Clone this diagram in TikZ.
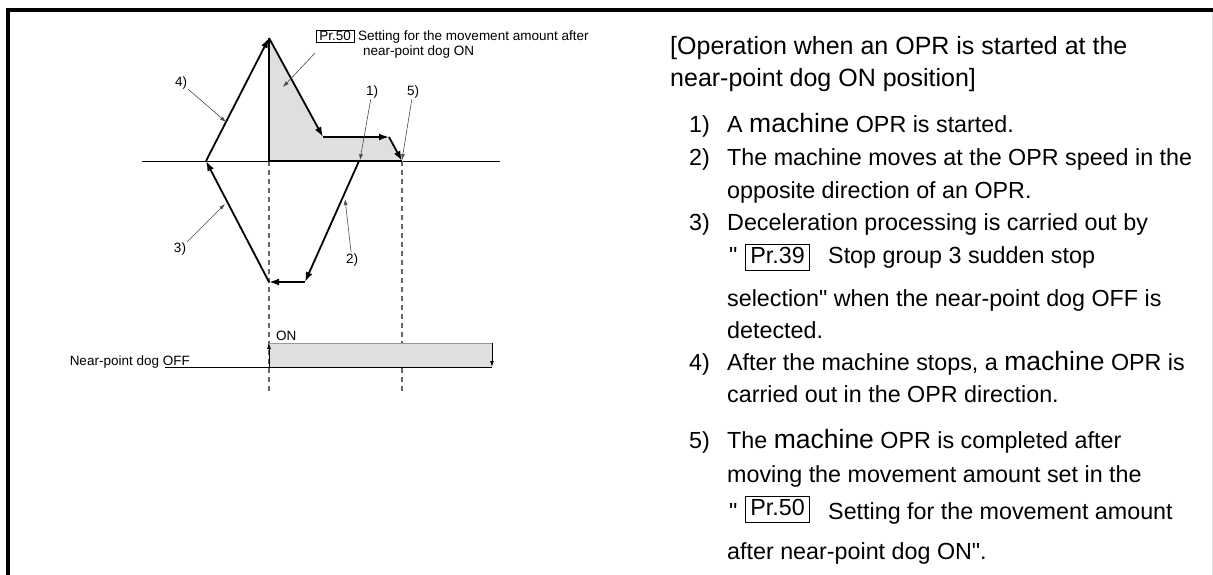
\documentclass[tikz,border=0pt]{standalone}
\usepackage{fontspec}
\newfontfamily\lsans{Liberation Sans}
\usetikzlibrary{arrows, arrows.meta, positioning}

\newcommand{\sz}[1]{\lsans\fontsize{#1}{#1}\selectfont}
\newcommand{\mach}{{\sz{26.5}machine}}

\begin{document}
\begin{tikzpicture}[x=1pt, y=-1pt, >=latex',
    move/.style={draw, -{Latex[length=10pt, width=7pt]}, line width=1.8pt},
    axis/.style={draw, line width=0.9pt},
    guide/.style={draw, gray!80!black, line width=1.2pt, dash pattern=on 5pt off 4pt},
    leader/.style={draw, -{Latex[length=6pt, width=4pt]}, gray!60!black, line width=0.6pt},
    edge/.style={draw, -{Latex[length=6pt, width=4pt]}, line width=0.8pt},
    lbl/.style={font=\sz{13.5}, inner sep=1pt},
    head/.style={anchor=base west, inner sep=0pt, font=\sz{25}},
    txt/.style={anchor=base west, inner sep=0pt, font=\sz{23.3}},
    prbox/.style={draw, line width=0.6pt, anchor=base west, inner xsep=5pt, inner ysep=2pt, text height=17pt, text depth=5pt, font=\sz{23.3}}]

    \useasboundingbox (0,0) rectangle (1213,575);

    % Frame
    \draw [line width=4pt] (8,575) -- (8,10.3) -- (1213,10.3);
    \draw [gray!25, line width=1pt] (1212,12) -- (1212,575);

    % Speed profile corners
    \coordinate (top) at (269,38);
    \coordinate (rev) at (206,161);
    \coordinate (org) at (269,161);
    \coordinate (dec) at (323,137);
    \coordinate (creep) at (389,137);
    \coordinate (stop) at (402,161);
    \coordinate (start) at (359,161);
    \coordinate (low2) at (305,282);
    \coordinate (low1) at (269,282);

    % Shaded travel after dog ON
    \fill [gray!25] (top) -- (dec) -- (creep) -- (stop) -- (org) -- cycle;

    % Axis and guides
    \coordinate (axl) at (142,161);
    \coordinate (axr) at (500,161);
    \path [axis] (axl) -- (axr);
    \coordinate (g1) at (269,392);
    \coordinate (g2) at (402,392);
    \path [guide] (org) -- (g1);
    \path [guide] (stop) -- (g2);

    % Movement
    \path [move] (start) -- (low2);
    \path [move] (low2) -- (low1);
    \path [move] (low1) -- (rev);
    \path [move] (rev) -- (top);
    \path [move] (top) -- (dec);
    \path [move] (dec) -- (creep);
    \path [move] (creep) -- (stop);
    \path [draw, line width=1.8pt] (top) -- (org) -- (stop);

    % Step labels
    \node [lbl] (l4) at (181,83) {4)};
    \node [lbl] (l1) at (372,92) {1)};
    \node [lbl] (l5) at (413,92) {5)};
    \node [lbl] (l3) at (180,249) {3)};
    \node [lbl] (l2) at (352,260) {2)};
    \coordinate (c4) at (226,122);
    \coordinate (c1) at (360,160);
    \coordinate (c5) at (402,160);
    \coordinate (c3) at (225,204);
    \coordinate (c2) at (345,199);
    \path [leader] (l4) -- (c4);
    \path [leader] (l1) -- (c1);
    \path [leader] (l5) -- (c5);
    \path [leader] (l3) -- (c3);
    \path [leader] (l2) -- (c2);

    % Pr.50 note
    \node [draw, line width=0.6pt, anchor=base west, inner xsep=3pt, inner ysep=1pt, text height=9.5pt, text depth=0.5pt, font=\sz{13.5}] (pr50a) at (316,41) {Pr.50};
    \node [anchor=base west, inner sep=0pt, font=\sz{13.5}] (set1) at (358,41) {Setting for the movement amount after};
    \node [anchor=base west, inner sep=0pt, font=\sz{13.5}] (set2) at (363,56) {near-point dog ON};
    \coordinate (cpr) at (315,53);
    \coordinate (cpa) at (283,87);
    \path [leader] (cpr) -- (cpa);

    % Near-point dog signal
    \coordinate (sl) at (165,367);
    \coordinate (son) at (269,367);
    \coordinate (sonh) at (269,343);
    \coordinate (soffh) at (492,343);
    \coordinate (soff) at (492,367);
    \fill [gray!25] (son) rectangle (soffh);
    \path [draw, gray!80, line width=0.8pt] (sonh) -- (soffh);
    \path [draw, line width=0.8pt] (sl) -- (soff);
    \path [edge] (son) -- (sonh);
    \path [edge] (soffh) -- (soff);
    \node [anchor=base east, inner sep=0pt, font=\sz{13.5}] (dog) at (190,365) {Near-point dog OFF};
    \node [anchor=base west, inner sep=0pt, font=\sz{13.5}] (on) at (276,340) {ON};

    % Operation text
    \node [head] (hd1) at (670,55) {[Operation when an OPR is started at the};
    \node [head] (hd2) at (670,87) {near-point dog ON position]};
    \node [txt] (n1) at (689,133) {1)};
    \node [txt] (t1) at (727,133) {A \mach{} OPR is started.};
    \node [txt] (n2) at (689,166) {2)};
    \node [txt] (t2) at (727,166) {The machine moves at the OPR speed in the};
    \node [txt] (t2b) at (727,198) {opposite direction of an OPR.};
    \node [txt] (n3) at (689,230) {3)};
    \node [txt] (t3) at (727,230) {Deceleration processing is carried out by};
    \node [txt] (q3) at (729,263) {"};
    \node [prbox] (pr39) at (745,263) {Pr.39};
    \node [txt] (t3b) at (828,263) {Stop group 3 sudden stop};
    \node [txt] (t3c) at (727,306) {selection" when the near-point dog OFF is};
    \node [txt] (t3d) at (727,338) {detected.};
    \node [txt] (n4) at (689,370) {4)};
    \node [txt] (t4) at (727,370) {After the machine stops, a \mach{} OPR is};
    \node [txt] (t4b) at (727,402) {carried out in the OPR direction.};
    \node [txt] (n5) at (689,448) {5)};
    \node [txt] (t5) at (727,448) {The \mach{} OPR is completed after};
    \node [txt] (t5b) at (727,482) {moving the movement amount set in the};
    \node [txt] (q5) at (729,519) {"};
    \node [prbox] (pr50b) at (745,515) {Pr.50};
    \node [txt] (t5c) at (828,519) {Setting for the movement amount};
    \node [txt] (t5d) at (727,559) {after near-point dog ON".};
\end{tikzpicture}
\end{document}
